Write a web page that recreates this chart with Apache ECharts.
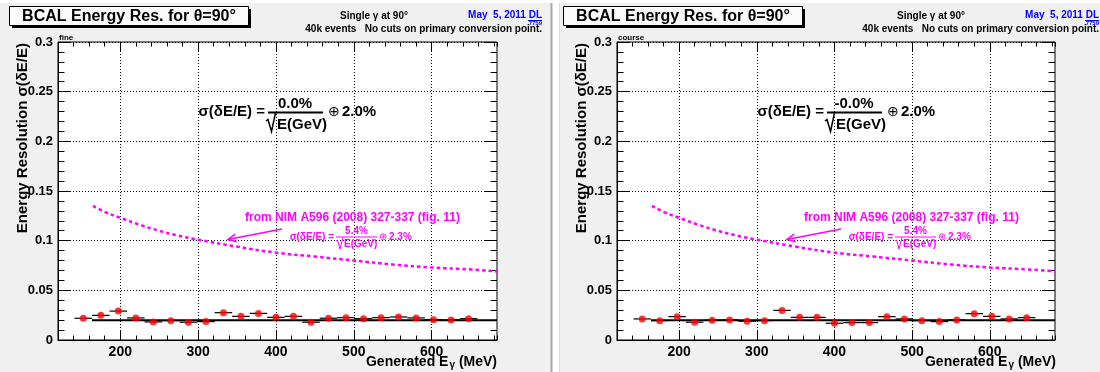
<!DOCTYPE html>
<html><head><meta charset="utf-8">
<script src="https://cdn.jsdelivr.net/npm/echarts@6/dist/echarts.min.js"></script>
<style>html,body{margin:0;padding:0;background:#fff}#c{width:1100px;height:372px}</style>
</head><body><div id="c"></div>
<script>
// ---------- data ----------
const energies = [152.5,175,197.5,220,242.5,265,287.5,310,332.5,355,377.5,400,422.5,445,467.5,490,512.5,535,557.5,580,602.5,625,647.5];
const binWidth = 22.5;
const fineRes = [0.0219,0.0248,0.0291,0.0222,0.0182,0.0195,0.0179,0.0185,0.0275,0.0238,0.0268,0.0228,0.0238,0.0179,0.0219,0.0225,0.0215,0.0225,0.0232,0.0222,0.0205,0.0202,0.0215];
const courseRes = [0.0212,0.0195,0.0235,0.0179,0.0199,0.0202,0.0189,0.0195,0.0298,0.0228,0.0228,0.0169,0.0175,0.0175,0.0235,0.0212,0.0195,0.0185,0.0202,0.0265,0.0238,0.0212,0.0225];
const fitRange = [163.75, 684];
const fitFine = 0.020;
const fitCourse = 0.020;
const nimE =   [165,180,200,225,250,275,300,350,400,450,500,550,600,650,684];
const nimRes = [0.135,0.129,0.123,0.116,0.110,0.105,0.101,0.094,0.088,0.084,0.080,0.076,0.073,0.071,0.069];
const xRange = [120, 684];
const yRange = [0, 0.3];
const xMajorTicks = [200,300,400,500,600];
const panelTags = ['fine','course'];
const fitNumerators = ['0.0%','-0.0%'];
const fitConstants = ['2.0%','2.0%'];

// ---------- layout ----------
const FONT = '"Liberation Sans", Arial, Helvetica, sans-serif';
const grids = [
  {left:58, top:42, width:439, height:298},
  {left:617, top:42, width:438, height:298}
];
const headerDx = [0, 557];
const boxDx = [0, 554];
const plotDx = [0, 559];

function xAxesFor(g) {
  const common = {gridIndex:g, type:'value', min:xRange[0], max:xRange[1]};
  const tickStyle = {color:'#000', width:1};
  return [
    Object.assign({}, common, {position:'bottom', interval:20,
      axisLine:{show:true, onZero:false, lineStyle:{color:'#000', width:1}},
      axisTick:{show:true, inside:true, length:4.5, lineStyle:tickStyle},
      axisLabel:{show:false}, splitLine:{show:false}}),
    Object.assign({}, common, {position:'bottom',
      axisLine:{show:false, onZero:false},
      axisTick:{show:true, inside:true, length:9, customValues:xMajorTicks, lineStyle:tickStyle},
      axisLabel:{show:true, customValues:xMajorTicks, margin:5, color:'#000', fontWeight:'bold', fontSize:14, fontFamily:FONT},
      splitLine:{show:true, lineStyle:{color:'#000', width:1, type:[1,2]}}}),
    Object.assign({}, common, {position:'top', interval:20,
      axisLine:{show:false, onZero:false},
      axisTick:{show:true, inside:true, length:4.5, lineStyle:tickStyle},
      axisLabel:{show:false}, splitLine:{show:false}}),
    Object.assign({}, common, {position:'top',
      axisLine:{show:false, onZero:false},
      axisTick:{show:true, inside:true, length:9, customValues:xMajorTicks, lineStyle:tickStyle},
      axisLabel:{show:false}, splitLine:{show:false}})
  ];
}
function yAxesFor(g) {
  const common = {gridIndex:g, type:'value', min:yRange[0], max:yRange[1]};
  const tickStyle = {color:'#000', width:1};
  return [
    Object.assign({}, common, {position:'left', interval:0.01,
      axisLine:{show:true, onZero:false, lineStyle:{color:'#000', width:1}},
      axisTick:{show:true, inside:true, length:6.5, lineStyle:tickStyle},
      axisLabel:{show:false}, splitLine:{show:false}}),
    Object.assign({}, common, {position:'left', interval:0.05,
      axisLine:{show:false, onZero:false},
      axisTick:{show:true, inside:true, length:13, lineStyle:tickStyle},
      axisLabel:{show:true, margin:5, color:'#000', fontWeight:'bold', fontSize:13, fontFamily:FONT,
        formatter: v => String(+v.toFixed(3))},
      splitLine:{show:true, lineStyle:{color:'#000', width:1, type:[1,2]}}}),
    Object.assign({}, common, {position:'right', interval:0.01,
      axisLine:{show:false, onZero:false},
      axisTick:{show:true, inside:true, length:6.5, lineStyle:tickStyle},
      axisLabel:{show:false}, splitLine:{show:false}}),
    Object.assign({}, common, {position:'right', interval:0.05,
      axisLine:{show:false, onZero:false},
      axisTick:{show:true, inside:true, length:13, lineStyle:tickStyle},
      axisLabel:{show:false}, splitLine:{show:false}})
  ];
}

function seriesFor(g, values, fitValue) {
  const xi = 4*g, yi = 4*g;
  return [
    {type:'line', xAxisIndex:xi, yAxisIndex:yi, data: nimE.map((e,i)=>[e, nimRes[i]]),
      smooth:true, showSymbol:false, symbol:'none', silent:true, z:2,
      lineStyle:{color:'#ff00ff', width:2.5, type:[3.5,3]}},
    {type:'custom', xAxisIndex:xi, yAxisIndex:yi, silent:true, z:3,
      data: energies.map((e,i)=>[e, values[i]]),
      renderItem: (params, api) => {
        const x = api.value(0), y = api.value(1);
        const p1 = api.coord([x - binWidth/2, y]);
        const p2 = api.coord([x + binWidth/2, y]);
        return {type:'line', shape:{x1:p1[0], y1:p1[1], x2:p2[0], y2:p2[1]},
          style:{stroke:'#000', lineWidth:1.2}};
      }},
    {type:'line', xAxisIndex:xi, yAxisIndex:yi, data:[[fitRange[0], fitValue],[fitRange[1], fitValue]],
      showSymbol:false, symbol:'none', silent:true, z:4,
      lineStyle:{color:'#000', width:2}},
    {type:'scatter', xAxisIndex:xi, yAxisIndex:yi, data: energies.map((e,i)=>[e, values[i]]),
      symbol:'circle', symbolSize:7, silent:true, z:5,
      itemStyle:{color:'#ff0000'}}
  ];
}

// ---------- graphic helpers ----------
function txt(x, y, text, size, o) {
  o = o || {};
  const st = {text, font:`${o.weight||'bold'} ${size}px ${FONT}`, fill:o.color||'#000',
    align:o.align||'left', verticalAlign:o.va||'middle',
    textAlign:o.align||'left', textVerticalAlign:o.va||'middle'};
  if (o.rich) st.rich = o.rich;
  return {type:'text', x, y, rotation:o.rot||0, z:50, silent:true, style:st};
}
function ln(x1,y1,x2,y2,color,w) {
  return {type:'line', z:50, silent:true, shape:{x1,y1,x2,y2}, style:{stroke:color, lineWidth:w}};
}
function pl(points,color,w) {
  return {type:'polyline', z:50, silent:true, shape:{points}, style:{stroke:color, lineWidth:w, fill:null}};
}

const graphics = [];
// pads
graphics.push({type:'rect', z:-100, silent:true, shape:{x:0,y:3,width:551,height:369}, style:{fill:'#f0f0f0'}});
graphics.push({type:'rect', z:-100, silent:true, shape:{x:559,y:3,width:541,height:369}, style:{fill:'#f0f0f0'}});
graphics.push(ln(551.5,3,551.5,372,'#a8a8a8',2));
graphics.push(ln(559.5,3,559.5,372,'#dcdcdc',1));

for (let g = 0; g < 2; g++) {
  const hd = headerDx[g], bd = boxDx[g], pd = plotDx[g];
  // title box with shadow
  graphics.push({type:'rect', z:40, silent:true, shape:{x:12+bd,y:9,width:239,height:19}, style:{fill:'#000'}});
  graphics.push({type:'rect', z:41, silent:true, shape:{x:9.5+bd,y:6.5,width:239,height:19}, style:{fill:'#fafafa', stroke:'#000', lineWidth:1}});
  graphics.push(txt(129+bd, 16.5, 'BCAL Energy Res. for θ=90°', 16, {align:'center'}));
  // header texts
  graphics.push(txt(374+hd, 16, 'Single γ at 90°', 10, {align:'center'}));
  graphics.push(txt(542+hd, 29, '40k events   No cuts on primary conversion point.', 10, {align:'right'}));
  graphics.push(txt(542+hd, 15, 'May  5, 2011 DL', 10, {align:'right', color:'#0000ff'}));
  graphics.push(ln(528+hd, 20.5, 542+hd, 20.5, '#0000ff', 1));
  graphics.push(txt(542+hd, 23.5, '7759', 6, {align:'right', color:'#0000ff'}));
  // pad tag
  graphics.push(txt(59+pd, 37.5, panelTags[g], 8, {}));
  // axis titles
  graphics.push(txt(23+pd, 43, 'Energy Resolution σ(δE/E)', 15, {align:'right', rot:Math.PI/2}));
  graphics.push(txt(497+pd, 362, '{a|Generated E}{b|γ}{a| (MeV)}', 14, {align:'right',
    rich:{a:{font:`bold 14px ${FONT}`, fill:'#000'}, b:{font:`bold 10px ${FONT}`, fill:'#000', verticalAlign:'bottom', padding:[7,0,0,1]}}}));
  // fit formula
  const fd = pd - 1;
  graphics.push(txt(266+fd, 112, 'σ(δE/E) =', 15, {align:'right'}));
  graphics.push(txt(296+fd, 104, fitNumerators[g], 15, {align:'center'}));
  graphics.push(ln(269+fd, 112.5, 324+fd, 112.5, '#000', 2));
  graphics.push(pl([[267+fd,121],[269+fd,119.5],[272.5+fd,131.5],[276.5+fd,113]], '#000', 1.5));
  graphics.push(txt(278+fd, 125, 'E(GeV)', 15, {}));
  graphics.push(txt(329+fd, 112, '⊕', 14, {weight:'normal'}));
  graphics.push(txt(343+fd, 112, fitConstants[g], 15, {}));
  // NIM annotation
  const M = '#ff00ff';
  graphics.push(txt(353.5+fd, 217.5, 'from NIM A596 (2008) 327-337 (fig. 11)', 12, {align:'center', color:M}));
  const tip = [229+fd, 239.5], tail = [283+fd, 229];
  graphics.push(ln(tail[0], tail[1], tip[0], tip[1], M, 1.5));
  const ang = Math.atan2(tail[1]-tip[1], tail[0]-tip[0]);
  const hl = 9, ha = 0.45;
  graphics.push(pl([[tip[0]+hl*Math.cos(ang+ha), tip[1]+hl*Math.sin(ang+ha)], tip,
    [tip[0]+hl*Math.cos(ang-ha), tip[1]+hl*Math.sin(ang-ha)]], M, 1.5));
  graphics.push(txt(335+fd, 237, 'σ(δE/E) =', 10, {align:'right', color:M}));
  graphics.push(txt(357.5+fd, 231, '5.4%', 10, {align:'center', color:M}));
  graphics.push(ln(337+fd, 237, 378+fd, 237, M, 1));
  graphics.push(pl([[337+fd,241],[338.5+fd,240],[341+fd,249],[344+fd,237.5]], M, 1));
  graphics.push(txt(345+fd, 244.5, 'E(GeV)', 10, {color:M}));
  graphics.push(txt(380+fd, 237, '⊕', 10, {weight:'normal', color:M}));
  graphics.push(txt(390+fd, 237, '2.3%', 10, {color:M}));
}

const option = {
  animation:false,
  backgroundColor:'#ffffff',
  grid: grids.map(gr => Object.assign({show:true, backgroundColor:'#ffffff', borderColor:'#000', borderWidth:1,
    containLabel:false, outerBoundsMode:'none'}, gr)),
  xAxis: [].concat(xAxesFor(0), xAxesFor(1)),
  yAxis: [].concat(yAxesFor(0), yAxesFor(1)),
  series: [].concat(seriesFor(0, fineRes, fitFine), seriesFor(1, courseRes, fitCourse)),
  graphic: {elements: graphics}
};
const chart = echarts.init(document.getElementById('c'), null, {renderer:'canvas'});
chart.setOption(option);
</script>
</body></html>
